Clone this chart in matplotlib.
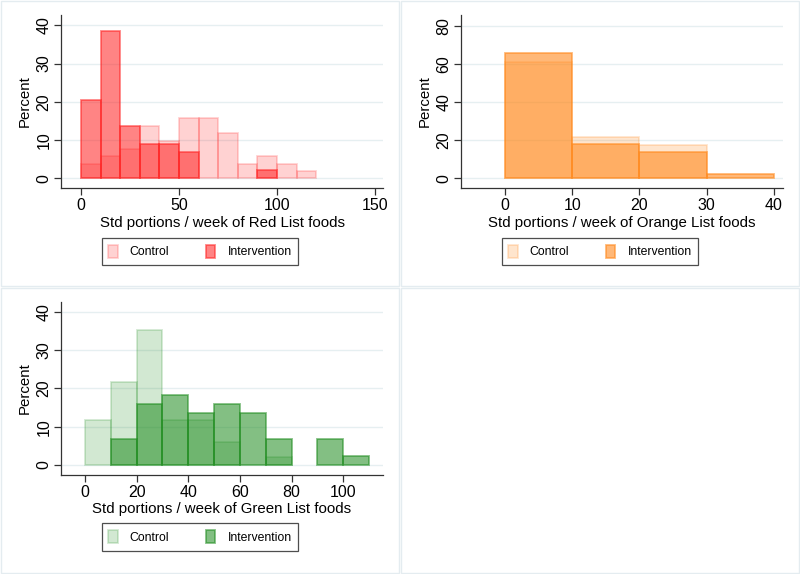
import numpy as np
import matplotlib
matplotlib.use('Agg')
import matplotlib.pyplot as plt
from matplotlib.patches import Rectangle, Patch

plt.rcParams['font.family'] = ['Liberation Sans', 'DejaVu Sans']

# bin edges (width 10) and percent per bin
red_edges = np.arange(0, 130, 10)
red_control = [3.9, 5.9, 7.8, 13.7, 9.8, 15.7, 15.7, 11.8, 3.9, 5.9, 3.9, 2.0]
red_interv = [20.5, 38.6, 13.6, 9.1, 9.1, 6.8, 0, 0, 0, 2.3, 0, 0]

orange_edges = np.arange(0, 50, 10)
orange_control = [60.8, 21.6, 17.6, 0]
orange_interv = [65.9, 18.2, 13.6, 2.3]

green_edges = np.arange(0, 120, 10)
green_control = [11.8, 21.6, 35.3, 11.8, 11.8, 5.9, 0, 2.0, 0, 0, 0]
green_interv = [0, 6.8, 15.9, 18.2, 13.6, 15.9, 13.6, 6.8, 0, 6.8, 2.3]

groups = ['Control', 'Intervention']

W, H = 800, 574
fig = plt.figure(figsize=(W / 100, H / 100), dpi=100)

# subgraph frames
for x0, y0, x1, y1 in [(1, 1, 399, 286), (401, 1, 799, 286),
                       (1, 288, 399, 573), (401, 288, 799, 573)]:
    fig.add_artist(Rectangle((x0 / W, 1 - y1 / H), (x1 - x0) / W, (y1 - y0) / H,
                             transform=fig.transFigure, fill=False,
                             edgecolor='#e4ecf0', lw=1))


def bars(ax, edges, vals, color, alpha, z):
    left = np.asarray(edges[:-1])
    vals = np.asarray(vals)
    keep = vals > 0   # empty bins are not drawn
    ax.bar(left[keep], vals[keep], width=10, align='edge', color=color,
           alpha=alpha, edgecolor=color, linewidth=1.3, zorder=z)


def panel(rect, edges, control, interv, color, a_ctrl, a_int, xlim, ylim,
          xticks, yticks, xlabel, legend_xy):
    l, t, r, b = rect
    ax = fig.add_axes([l / W, 1 - b / H, (r - l) / W, (b - t) / H])
    bars(ax, edges, control, color, a_ctrl, 2)
    bars(ax, edges, interv, color, a_int, 3)
    ax.set_xlim(*xlim)
    ax.set_ylim(*ylim)
    ax.set_xticks(xticks)
    ax.set_yticks(yticks)
    ax.set_yticklabels([str(v) for v in yticks], rotation=90, va='center')
    ax.tick_params(labelsize=11.5, length=5, width=0.9, color='#333333', pad=2)
    ax.grid(axis='y', color='#e6eff1', lw=1, zorder=0)
    ax.set_axisbelow(True)
    for s in ['top', 'right']:
        ax.spines[s].set_visible(False)
    for s in ['left', 'bottom']:
        ax.spines[s].set_color('#333333')
        ax.spines[s].set_linewidth(0.9)
    ax.set_xlabel(xlabel, fontsize=10.8, labelpad=2)
    ax.set_ylabel('Percent', fontsize=10.8, labelpad=3)
    handles = [Patch(facecolor=color, alpha=a_ctrl, edgecolor=color, lw=1.3),
               Patch(facecolor=color, alpha=a_int, edgecolor=color, lw=1.3)]
    leg = ax.legend(handles, groups, loc='center', ncol=2,
                    bbox_to_anchor=(legend_xy[0] / W, 1 - legend_xy[1] / H),
                    bbox_transform=fig.transFigure, fontsize=8.8,
                    frameon=True, fancybox=False, handlelength=0.75,
                    handleheight=1.3, handletextpad=1.0, columnspacing=3.0,
                    borderpad=0.55)
    leg.get_frame().set_edgecolor('#222222')
    leg.get_frame().set_linewidth(0.9)
    return ax


panel((61, 15, 383, 188), red_edges, red_control, red_interv, '#ff2020',
      0.2, 0.55, (-10.2, 154.1), (-2.5, 42.7), [0, 50, 100, 150],
      [0, 10, 20, 30, 40], 'Std portions / week of Red List foods', (200, 251.5))

panel((461, 15, 783, 188), orange_edges, orange_control, orange_interv, '#ff8a1e',
      0.22, 0.6, (-6.6, 41.4), (-5.1, 85.6), [0, 10, 20, 30, 40],
      [0, 20, 40, 60, 80], 'Std portions / week of Orange List foods', (600, 251.5))

panel((61, 301.7, 383, 475), green_edges, green_control, green_interv, '#1e8c1e',
      0.2, 0.55, (-9.3, 115.4), (-2.6, 42.6), [0, 20, 40, 60, 80, 100],
      [0, 10, 20, 30, 40], 'Std portions / week of Green List foods', (200, 537))

fig.savefig('out.png', dpi=100, facecolor='white')
